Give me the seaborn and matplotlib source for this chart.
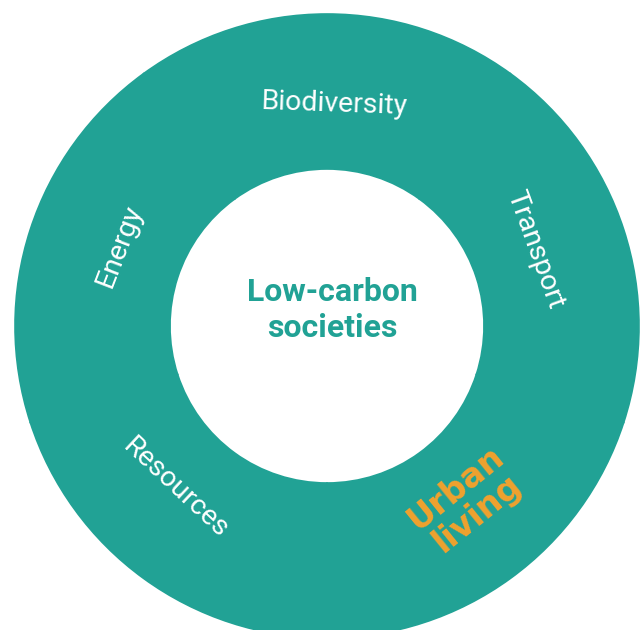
import numpy as np
import matplotlib
matplotlib.use("Agg")
import matplotlib.pyplot as plt
import seaborn as sns

# Ring topics, listed clockwise from the top
topics = ["Biodiversity", "Transport", "Urban\nliving", "Resources", "Energy"]
shares = [1, 1, 1, 1, 1]
highlight = "Urban\nliving"
centre_title = "Low-carbon\nsocieties"

TEAL = "#21A295"
ORANGE = "#F0A12E"

# small hand nudges (degrees) so the labels sit where the original has them
nudge = {"Biodiversity": -2, "Transport": 2, "Urban\nliving": 3,
         "Resources": -7, "Energy": -3}

sns.set_theme(style="white")
plt.rcParams['font.family'] = ['Roboto', 'DejaVu Sans']

W, H = 642, 630
fig = plt.figure(figsize=(W / 100, H / 100), dpi=100)
ax = fig.add_axes([0, 0, 1, 1])

cx, cy = 327, H - 326
r_out, r_in = 312, 157

wedges, _ = ax.pie(shares, colors=[TEAL] * len(shares), startangle=126,
                   counterclock=False, center=(cx, cy), radius=r_out,
                   wedgeprops=dict(width=r_out - r_in, linewidth=1.2,
                                   edgecolor=TEAL))

ax.set_xlim(0, W)
ax.set_ylim(0, H)
ax.set_aspect('equal')
ax.axis('off')

# Labels placed along the ring at each wedge's mid angle
r_lab = 222
for w, name in zip(wedges, topics):
    ang = (w.theta1 + w.theta2) / 2 + nudge[name]
    a = np.deg2rad(ang)
    x = cx + r_lab * np.cos(a)
    y = cy + r_lab * np.sin(a)
    rot = ang - 90 if 0 <= (ang % 360) <= 180 else ang + 90
    if name == highlight:
        ax.text(x, y - 2, name, ha='center', va='center', rotation=rot,
                rotation_mode='anchor', color=ORANGE, fontsize=24,
                fontweight='bold', family=['DejaVu Sans'], linespacing=1.0)
    else:
        ax.text(x, y, name, ha='center', va='center', rotation=rot,
                rotation_mode='anchor', color='white', fontsize=20.5)

ax.text(cx + 5, cy + 16, centre_title, ha='center', va='center',
        color=TEAL, fontsize=23, fontweight='bold', linespacing=1.22)

fig.savefig("out.png", dpi=100, facecolor='white')
